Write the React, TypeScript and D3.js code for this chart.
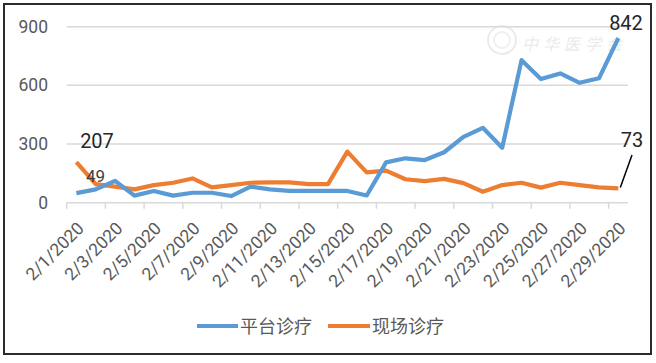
import React from "react";
import * as d3 from "d3";

const dates = Array.from({ length: 29 }, (_, i) => `2/${i + 1}/2020`);
const platform = [49, 68, 112, 36, 60, 36, 51, 51, 34, 82, 68, 60, 60, 60, 60, 37, 206, 227, 218, 258, 337, 383, 281, 729, 632, 661, 613, 636, 842];
const onsite = [207, 95, 82, 68, 90, 102, 124, 78, 90, 102, 104, 104, 95, 95, 261, 155, 164, 120, 110, 122, 100, 56, 90, 102, 77, 102, 90, 78, 73];
const yTicks = [0, 300, 600, 900];
const seriesNames = ["平台诊疗", "现场诊疗"];
const colors = ["#5B9BD5", "#ED7D31"];

const W = 656, H = 363;
const FONT = "Roboto, 'Noto Sans', 'Noto Sans CJK SC', sans-serif";

export default function App() {
  const x = d3.scaleBand<string>().domain(dates).range([66.7, 628]).paddingInner(0).paddingOuter(0);
  const y = d3.scaleLinear().domain([0, 900]).range([202.7, 26.7]);
  const cx = (d: string) => (x(d) as number) + x.bandwidth() / 2;
  const line = d3.line<number>().x((_, i) => cx(dates[i])).y((v) => y(v)).curve(d3.curveLinear);
  const last = dates.length - 1;

  return (
    <svg width={W} height={H} style={{ position: "fixed", left: 0, top: 0, background: "#fff" }} fontFamily={FONT}>
      <rect x={0} y={0} width={W} height={H} fill="#fff" />
      {/* watermark */}
      <g opacity={0.5}>
        <circle cx={502} cy={40} r={14} fill="none" stroke="#d8d8d8" strokeWidth={2} />
        <circle cx={502} cy={40} r={8} fill="none" stroke="#e2e2e2" strokeWidth={2} />
        <text x={522} y={50} fontSize={16} fill="#d6d6d6" fontStyle="italic" letterSpacing={5} fontFamily="'Noto Sans CJK SC'">中华医学会</text>
      </g>
      {/* gridlines */}
      {yTicks.map((t) => (
        <g key={t}>
          <line x1={66.7} x2={628} y1={y(t)} y2={y(t)} stroke="#d9d9d9" strokeWidth={1.5} />
          <text x={48} y={y(t) + 6} textAnchor="end" fontSize={17.5} fill="#595959">{t}</text>
        </g>
      ))}
      {/* x ticks */}
      {dates.map((d, i) =>
        i % 2 === 0 ? (
          <line key={d} x1={x(d) as number} x2={x(d) as number} y1={y(0)} y2={y(0) + 6} stroke="#d9d9d9" strokeWidth={1.5} />
        ) : null
      )}
      {dates.map((d, i) =>
        i % 2 === 0 ? (
          <text key={"l" + d} transform={`translate(${cx(d) + 8.5},${229.5}) rotate(-45)`} textAnchor="end" fontSize={17.5} fill="#595959">{d}</text>
        ) : null
      )}
      {/* lines */}
      <path d={line(onsite) || ""} fill="none" stroke={colors[1]} strokeWidth={4.2} strokeLinejoin="round" />
      <path d={line(platform) || ""} fill="none" stroke={colors[0]} strokeWidth={4.2} strokeLinejoin="round" />
      {/* data labels */}
      <text x={97} y={148} textAnchor="middle" fontSize={20} fill="#262626">{onsite[0]}</text>
      <text x={95.5} y={182} textAnchor="middle" fontSize={17} fill="#404040">{platform[0]}</text>
      <text x={626} y={30} textAnchor="middle" fontSize={20} fill="#262626">{platform[last]}</text>
      <text x={632} y={147} textAnchor="middle" fontSize={20} fill="#262626">{onsite[last]}</text>
      <line x1={cx(dates[last]) + 2} y1={y(onsite[last]) - 1} x2={632} y2={155} stroke="#000" strokeWidth={1.5} />
      {/* legend */}
      <line x1={197} x2={238} y1={326} y2={326} stroke={colors[0]} strokeWidth={4} />
      <text x={240} y={332.5} fontSize={18} fill="#595959" fontFamily="'Noto Sans CJK SC'">{seriesNames[0]}</text>
      <line x1={328} x2={370} y1={326} y2={326} stroke={colors[1]} strokeWidth={4} />
      <text x={372} y={332.5} fontSize={18} fill="#595959" fontFamily="'Noto Sans CJK SC'">{seriesNames[1]}</text>
      {/* border */}
      <rect x={4} y={4} width={647} height={350} fill="none" stroke="#2b2b2b" strokeWidth={2} />
    </svg>
  );
}
